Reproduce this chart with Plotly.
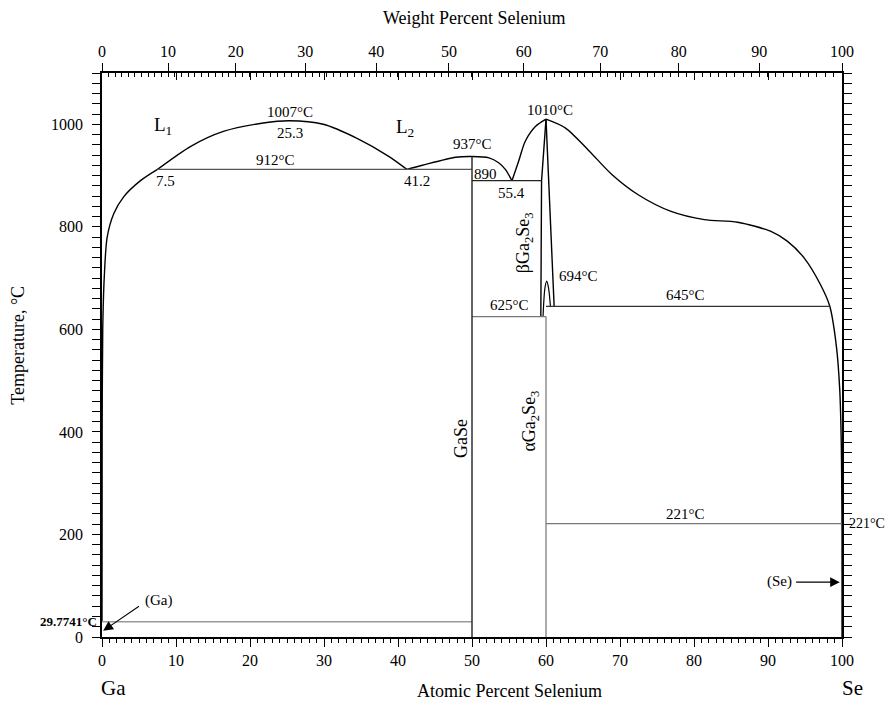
import plotly.graph_objects as go

# ---------------- data (atomic % Se, temperature °C) ----------------
liq_ga_x = [0, 0.02, 0.1, 0.3, 0.7, 1.6, 2.9, 5.2, 7.5]
liq_ga_T = [29.77, 400, 600, 700, 780, 826, 858, 890, 912]

dome_x = [7.5, 12, 16.4, 21.8, 25.3, 29.9, 34.4, 38.8, 41.2]
dome_T = [912, 957, 986, 1002.5, 1007, 1000, 973, 937, 912]

gase_liq_x = [41.2, 43.3, 47.8, 50, 52.3, 53.6, 54.5, 55.4]
gase_liq_T = [912, 920, 935.6, 937, 934.5, 925, 912, 890]

ga2se3_liq_left_x = [55.4, 56.3, 57.2, 58.6, 60]
ga2se3_liq_left_T = [890, 928, 967, 996, 1010]

se_liq_x = [60, 62.6, 65.7, 68.9, 72.4, 76.9, 81.4, 85.9, 90.4, 92.6, 94.9, 97.1, 98.35, 99.25, 99.7, 99.9, 100]
se_liq_T = [1010, 993, 950, 902, 863, 830, 814, 809, 791, 772, 739, 687, 645, 566, 481, 380, 221]

beta_left_x = [59.3, 59.4, 60]
beta_left_T = [625, 890, 1010]
beta_right_x = [60, 61.1]
beta_right_T = [1010, 645]

trans_dome_x = [59.6, 59.85, 60.1, 60.35, 60.6]
trans_dome_T = [625, 680, 694, 680, 645]

# invariant lines
horiz_x0 = [7.5, 50, 50, 60, 60, 0]
horiz_x1 = [50, 59.4, 60, 98.35, 100, 50]
horiz_T = [912, 890, 625, 645, 221, 29.7741]
horiz_col = ["#555555", "#222222", "#777777", "#333333", "#777777", "#999999"]

# vertical compound lines
vert_x = [50, 60, 100]
vert_T0 = [0, 0, 0]
vert_T1 = [937, 625, 221]
vert_col = ["#222222", "#888888", "#111111"]

atomic_ticks = [0, 10, 20, 30, 40, 50, 60, 70, 80, 90, 100]
weight_ticks = [0, 10, 20, 30, 40, 50, 60, 70, 80, 90, 100]
temp_ticks = [0, 200, 400, 600, 800, 1000]

M_GA = 69.723
M_SE = 78.971


def wt_to_at(w):
    if w <= 0:
        return 0.0
    if w >= 100:
        return 100.0
    ns = w / M_SE
    ng = (100 - w) / M_GA
    return 100 * ns / (ns + ng)


FONT = "Liberation Serif"
fig = go.Figure()


def add_line(x, y, color="black", width=1.4, shape="linear"):
    fig.add_trace(go.Scatter(x=x, y=y, mode="lines",
                             line=dict(color=color, width=width, shape=shape, smoothing=0.8),
                             hoverinfo="skip", showlegend=False))


add_line(liq_ga_x, liq_ga_T, shape="spline")
add_line(dome_x, dome_T, shape="spline")
add_line(gase_liq_x, gase_liq_T, shape="spline")
add_line(ga2se3_liq_left_x, ga2se3_liq_left_T, shape="spline")
add_line(se_liq_x, se_liq_T, shape="spline")
add_line(beta_left_x, beta_left_T)
add_line(beta_right_x, beta_right_T)
add_line(trans_dome_x, trans_dome_T, shape="spline", width=1.2)

for x0, x1, T, c in zip(horiz_x0, horiz_x1, horiz_T, horiz_col):
    add_line([x0, x1], [T, T], color=c, width=1.3)
for x, T0, T1, c in zip(vert_x, vert_T0, vert_T1, vert_col):
    add_line([x, x], [T0, T1], color=c, width=1.4)

# dummy traces for the overlay axes
for ax in ["x2", "x3", "x4"]:
    fig.add_trace(go.Scatter(x=[None], y=[None], xaxis=ax, showlegend=False, hoverinfo="skip"))

ann = []


def txt(x, y, t, size=15, angle=0, xref="x", yref="y", xanchor="center", yanchor="middle", **kw):
    d = dict(x=x, y=y, text=t, xref=xref, yref=yref, showarrow=False, textangle=angle,
             xanchor=xanchor, yanchor=yanchor, font=dict(family=FONT, size=size, color="black"))
    d.update(kw)
    ann.append(d)


txt(8.2, 996, "L<sub>1</sub>", size=19)
txt(40.9, 993, "L<sub>2</sub>", size=19)
txt(25.4, 1024, "1007°C", size=15)
txt(25.4, 983, "25.3", size=15)
txt(23.4, 930, "912°C", size=15)
txt(8.6, 889, "7.5", size=15)
txt(42.6, 889, "41.2", size=15)
txt(50.0, 961, "937°C", size=15)
txt(51.8, 903, "890", size=15)
txt(55.4, 866, "55.4", size=15)
txt(60.6, 1028, "1010°C", size=15)
txt(57.1, 769, "βGa<sub>2</sub>Se<sub>3</sub>", size=18, angle=-90)
txt(64.4, 704, "694°C", size=15)
txt(78.9, 668, "645°C", size=15)
txt(55.0, 647, "625°C", size=15)
txt(48.5, 388, "GaSe", size=18, angle=-90)
txt(57.9, 421, "αGa<sub>2</sub>Se<sub>3</sub>", size=18, angle=-90)
txt(78.9, 240, "221°C", size=15)
txt(1.0, 221, "221°C", size=14, xref="paper", xanchor="left", xshift=5)
txt(0.0, 31, "<b>29.7741°C</b>", size=13, xref="paper", xanchor="right", xshift=-3)

# arrows
ann.append(dict(x=99.7, y=107, ax=93.6, ay=107, xref="x", yref="y", axref="x", ayref="y",
                showarrow=True, arrowhead=2, arrowsize=1.6, arrowwidth=1.2, arrowcolor="black",
                text="", standoff=0))
txt(91.5, 109, "(Se)", size=15)
ann.append(dict(x=0.15, y=12, ax=5.2, ay=62, xref="x", yref="y", axref="x", ayref="y",
                showarrow=True, arrowhead=2, arrowsize=1.8, arrowwidth=1.1, arrowcolor="black",
                text="", standoff=0))
txt(7.6, 72, "(Ga)", size=15)

# axis titles / element labels (paper coords)
txt(-0.113, 0.517, "Temperature, °C", size=18, angle=-90, xref="paper", yref="paper")
txt(0.551, -0.095, "Atomic Percent Selenium", size=18, xref="paper", yref="paper")
txt(0.504, 1.097, "Weight Percent Selenium", size=18, xref="paper", yref="paper")
txt(0.0155, -0.091, "Ga", size=21, xref="paper", yref="paper")
txt(1.014, -0.091, "Se", size=21, xref="paper", yref="paper")

wt_major_pos = [wt_to_at(w) for w in weight_ticks]
wt_minor_pos = [wt_to_at(w) for w in range(0, 101)]

axis_common = dict(showgrid=False, zeroline=False, linecolor="black", linewidth=1.5,
                   tickcolor="black", tickfont=dict(family=FONT, size=16, color="black"))

fig.update_layout(
    width=896, height=701,
    margin=dict(l=93.5, r=61.5, t=64.7, b=72.3),
    paper_bgcolor="white", plot_bgcolor="white",
    showlegend=False,
    xaxis=dict(range=[0, 100], tickmode="array", tickvals=atomic_ticks,
               ticks="outside", ticklen=8, tickwidth=1.2, showline=True,
               minor=dict(dtick=1, ticklen=4, ticks="outside", tickcolor="black", tickwidth=1),
               **axis_common),
    xaxis2=dict(range=[0, 100], overlaying="x", side="top", anchor="y",
                tickmode="array", tickvals=wt_major_pos, ticktext=[str(w) for w in weight_ticks],
                ticks="outside", ticklen=8, tickwidth=1.2, showline=True, **axis_common),
    xaxis3=dict(range=[0, 100], overlaying="x", side="top", anchor="y",
                tickmode="array", tickvals=wt_minor_pos, showticklabels=False,
                ticks="inside", ticklen=4, tickwidth=1, showline=False,
                showgrid=False, zeroline=False, tickcolor="black"),
    xaxis4=dict(range=[0, 100], overlaying="x", side="top", anchor="y",
                tickmode="array", tickvals=atomic_ticks, showticklabels=False,
                ticks="inside", ticklen=7, tickwidth=1.2, showline=False,
                showgrid=False, zeroline=False, tickcolor="black"),
    yaxis=dict(range=[0, 1100], tickmode="array", tickvals=temp_ticks,
               ticks="outside", ticklen=8, tickwidth=1.2, showline=True, mirror="allticks",
               ticklabelstandoff=6,
               minor=dict(dtick=20, ticklen=4, ticks="outside", tickcolor="black", tickwidth=1),
               **axis_common),
    annotations=ann,
)

fig.write_html("out.html")
